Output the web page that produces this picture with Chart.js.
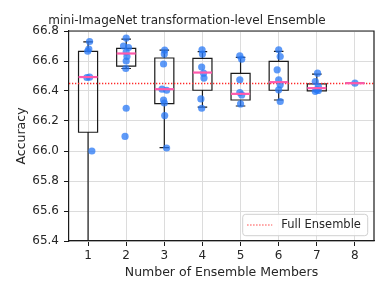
<!DOCTYPE html>
<html>
<head>
<meta charset="utf-8">
<script src="https://cdn.jsdelivr.net/npm/chart.js@4"></script>
<style>
  html, body { margin: 0; padding: 0; background: #fff; }
  #wrap { width: 388px; height: 295px; }
</style>
</head>
<body>
<div id="wrap"><canvas id="c" width="388" height="295"></canvas></div>
<script>
// ---- data ----
const categories = [1, 2, 3, 4, 5, 6, 7, 8];
const yTicks = [65.4, 65.6, 65.8, 66.0, 66.2, 66.4, 66.6, 66.8];

// box statistics per group
const q1       = [66.125, 66.566, 66.316, 66.405, 66.340, 66.405, 66.401, 66.452];
const medians  = [66.493, 66.650, 66.412, 66.523, 66.381, 66.459, 66.419, 66.452];
const q3       = [66.664, 66.684, 66.620, 66.617, 66.517, 66.597, 66.448, 66.452];
const whiskLo  = [65.300, 66.550, 66.022, 66.292, 66.300, 66.340, 66.401, 66.452];
const whiskHi  = [66.728, 66.746, 66.673, 66.662, 66.624, 66.664, 66.512, 66.452];

// individual runs (x slightly jittered as in the picture)
const runX = [
  1.04, 1.02, 0.99, 0.97, 1.04, 1.10,
  2.00, 1.93, 2.06, 2.00, 2.02, 2.00, 1.99, 2.00, 1.97,
  3.01, 3.00, 2.98, 2.94, 3.06, 2.98, 3.00, 3.01, 3.06,
  3.99, 4.00, 3.98, 4.03, 4.04, 3.96, 3.98,
  4.98, 5.03, 4.98, 4.98, 5.03, 5.00,
  6.00, 6.04, 5.96, 6.00, 6.04, 6.00, 6.04,
  7.02, 6.96, 7.04, 7.00, 6.96, 7.04,
  8.00
];
const runY = [
  66.730, 66.680, 66.665, 66.490, 66.492, 66.000,
  66.753, 66.700, 66.690, 66.660, 66.630, 66.600, 66.550, 66.285, 66.097,
  66.672, 66.646, 66.580, 66.412, 66.405, 66.340, 66.320, 66.236, 66.020,
  66.675, 66.646, 66.560, 66.519, 66.486, 66.347, 66.285,
  66.635, 66.612, 66.475, 66.390, 66.374, 66.314,
  66.675, 66.630, 66.541, 66.474, 66.441, 66.408, 66.330,
  66.519, 66.463, 66.430, 66.408, 66.398, 66.404,
  66.452
];

const fullEnsemble = 66.45;
const fullEnsembleLabel = 'Full Ensemble';
const titleText = 'mini-ImageNet transformation-level Ensemble';
const xTitle = 'Number of Ensemble Members';
const yTitle = 'Accuracy';

// ---- styles ----
const FONT = 'DejaVu Sans';
const TXT = '#262626';
const RED = 'rgb(255,40,40)';
const BOX_W = 0.5;   // in x units
const CAP_W = 0.25;

const boxPlugin = {
  id: 'boxes',
  beforeDatasetsDraw(chart) {
    const {ctx, chartArea: ca, scales: {x, y}} = chart;
    ctx.save();
    ctx.beginPath();
    ctx.rect(ca.left, ca.top, ca.right - ca.left, ca.bottom - ca.top);
    ctx.clip();
    ctx.strokeStyle = '#1a1a1a';
    ctx.lineWidth = 1.2;
    categories.forEach((c, i) => {
      const xl = x.getPixelForValue(c - BOX_W / 2);
      const xr = x.getPixelForValue(c + BOX_W / 2);
      const xc = x.getPixelForValue(c);
      const cl = x.getPixelForValue(c - CAP_W / 2);
      const cr = x.getPixelForValue(c + CAP_W / 2);
      const yq1 = y.getPixelForValue(q1[i]);
      const yq3 = y.getPixelForValue(q3[i]);
      const ylo = y.getPixelForValue(whiskLo[i]);
      const yhi = y.getPixelForValue(whiskHi[i]);
      ctx.beginPath();
      ctx.rect(xl, yq3, xr - xl, yq1 - yq3);
      ctx.moveTo(xc, yq1); ctx.lineTo(xc, ylo);
      ctx.moveTo(xc, yq3); ctx.lineTo(xc, yhi);
      ctx.moveTo(cl, ylo); ctx.lineTo(cr, ylo);
      ctx.moveTo(cl, yhi); ctx.lineTo(cr, yhi);
      ctx.stroke();
    });
    ctx.restore();
  },
  afterDatasetsDraw(chart) {
    const {ctx, scales: {x, y}} = chart;
    ctx.save();
    ctx.strokeStyle = '#ff5aac';
    ctx.lineWidth = 2.2;
    categories.forEach((c, i) => {
      const xl = x.getPixelForValue(c - BOX_W / 2);
      const xr = x.getPixelForValue(c + BOX_W / 2);
      const ym = y.getPixelForValue(medians[i]);
      ctx.beginPath();
      ctx.moveTo(xl, ym); ctx.lineTo(xr, ym);
      ctx.stroke();
    });
    ctx.restore();
  },
  afterDraw(chart) {
    const {ctx, chartArea: ca} = chart;
    ctx.save();
    // top & right spines
    ctx.strokeStyle = '#1a1a1a';
    ctx.lineWidth = 1.2;
    ctx.beginPath();
    ctx.moveTo(ca.left, ca.top); ctx.lineTo(ca.right, ca.top); ctx.lineTo(ca.right, ca.bottom);
    ctx.stroke();
    // legend box (lower right)
    const w = 125, h = 21.4;
    const lx = ca.right - 6.3 - w, ly = ca.bottom - 5.3 - h;
    ctx.beginPath();
    if (ctx.roundRect) ctx.roundRect(lx, ly, w, h, 3); else ctx.rect(lx, ly, w, h);
    ctx.fillStyle = 'rgba(255,255,255,0.85)';
    ctx.fill();
    ctx.strokeStyle = '#d0d0d0';
    ctx.lineWidth = 1;
    ctx.stroke();
    const cy = ly + h / 2;
    ctx.strokeStyle = RED;
    ctx.lineWidth = 1.2;
    ctx.setLineDash([1.3, 1.7]);
    ctx.beginPath();
    ctx.moveTo(lx + 4.5, cy); ctx.lineTo(lx + 29.5, cy);
    ctx.stroke();
    ctx.setLineDash([]);
    ctx.fillStyle = TXT;
    ctx.font = '11.5px "' + FONT + '"';
    ctx.textBaseline = 'middle';
    ctx.textAlign = 'left';
    ctx.fillText(fullEnsembleLabel, lx + 38.5, cy + 0.5);
    ctx.restore();
  }
};

const pts = runX.map((v, i) => ({x: v, y: runY[i]}));

new Chart(document.getElementById('c'), {
  type: 'scatter',
  data: {
    datasets: [
      {
        type: 'line',
        label: fullEnsembleLabel,
        data: [{x: 0.5, y: fullEnsemble}, {x: 8.5, y: fullEnsemble}],
        borderColor: RED,
        backgroundColor: RED,
        borderWidth: 1.3,
        borderDash: [1.3, 1.7],
        pointRadius: 0,
        fill: false,
        order: 2
      },
      {
        label: 'runs',
        data: pts,
        backgroundColor: 'rgba(40,120,245,0.75)',
        borderWidth: 0,
        pointRadius: 3.6,
        order: 1
      }
    ]
  },
  options: {
    responsive: false,
    animation: false,
    events: [],
    layout: { padding: { left: 0, right: 14, top: 0, bottom: 0 } },
    plugins: {
      legend: { display: false },
      tooltip: { enabled: false },
      title: {
        display: true,
        text: titleText,
        color: TXT,
        font: { family: FONT, size: 12, weight: 'normal', lineHeight: 1.2 },
        padding: { top: 13.6, bottom: 3.0 }
      }
    },
    scales: {
      x: {
        type: 'linear',
        min: 0.5, max: 8.5,
        afterBuildTicks: (s) => { s.ticks = categories.map(v => ({value: v})); },
        afterFit: (s) => { s.height = 54; },
        grid: { color: '#dcdcdc', lineWidth: 1, tickColor: '#1a1a1a', tickLength: 5, drawTicks: true },
        border: { display: true, color: '#1a1a1a', width: 1.2 },
        ticks: {
          color: TXT, padding: 3, maxRotation: 0,
          font: { family: FONT, size: 12 },
          callback: (v) => String(v)
        },
        title: {
          display: true, text: xTitle, color: TXT,
          font: { family: FONT, size: 12.5, lineHeight: 1.2 },
          padding: { top: 0, bottom: 14.8 }
        }
      },
      y: {
        type: 'linear',
        min: 65.4, max: 66.8,
        afterBuildTicks: (s) => { s.ticks = yTicks.map(v => ({value: v})); },
        afterFit: (s) => { s.width = 69; },
        grid: { color: '#dcdcdc', lineWidth: 1, tickColor: '#1a1a1a', tickLength: 5, drawTicks: true },
        border: { display: true, color: '#1a1a1a', width: 1.2 },
        ticks: {
          color: TXT, padding: 5,
          font: { family: FONT, size: 12 },
          callback: (v) => Number(v).toFixed(1)
        },
        title: {
          display: true, text: yTitle, color: TXT,
          font: { family: FONT, size: 12.5, lineHeight: 1.2 },
          padding: { top: 14.2, bottom: 0 }
        }
      }
    }
  },
  plugins: [boxPlugin]
});
</script>
</body>
</html>
